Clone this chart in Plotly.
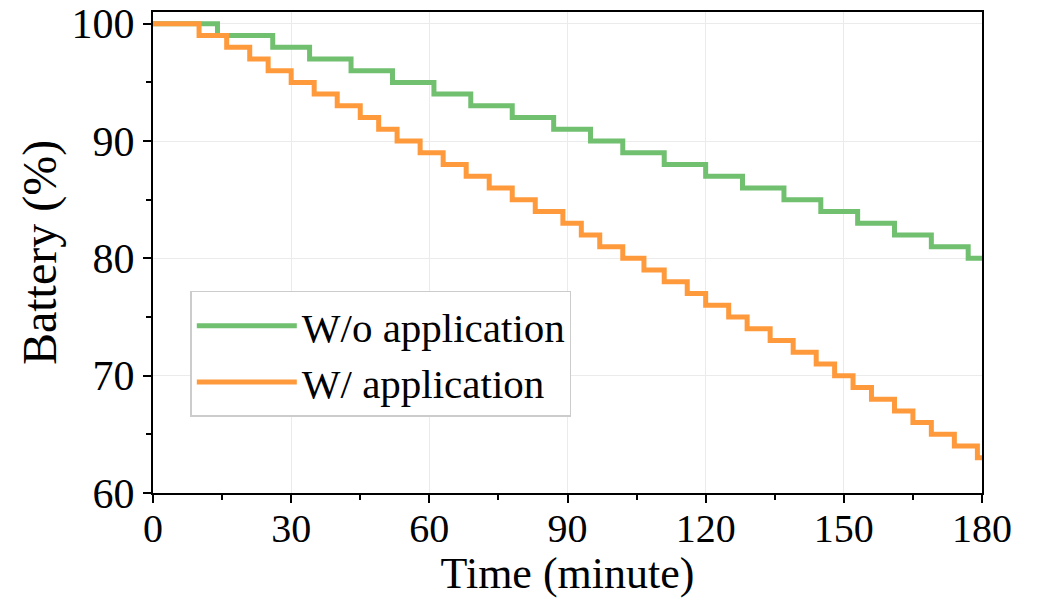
import plotly.graph_objects as go

# Step change times (minutes) and battery levels (%)
wo_time = [0, 14, 26, 34, 43, 52, 61, 69, 78, 87, 95, 102, 111, 120, 128, 137, 145, 153, 161, 169, 177, 180]
wo_batt = [100, 99, 98, 97, 96, 95, 94, 93, 92, 91, 90, 89, 88, 87, 86, 85, 84, 83, 82, 81, 80, 80]

w_time = [0, 10, 16, 21, 25, 30, 35, 40, 45, 49, 53, 58, 63, 68, 73, 78, 83, 89, 93, 97, 102, 106.6,
          111, 116, 120, 125, 129, 134, 139, 144, 148, 152, 156, 161, 165, 169, 174, 179, 180]
w_batt = [100, 99, 98, 97, 96, 95, 94, 93, 92, 91, 90, 89, 88, 87, 86, 85, 84, 83, 82, 81, 80, 79,
          78, 77, 76, 75, 74, 73, 72, 71, 70, 69, 68, 67, 66, 65, 64, 63, 63]

x_ticks = [0, 30, 60, 90, 120, 150, 180]
y_ticks = [60, 70, 80, 90, 100]

FONT = "Liberation Serif, Times New Roman, serif"

fig = go.Figure()
fig.add_trace(go.Scatter(x=wo_time, y=wo_batt, mode="lines", name="W/o application",
                         line=dict(color="#70c070", width=5, shape="hv")))
fig.add_trace(go.Scatter(x=w_time, y=w_batt, mode="lines", name="W/ application",
                         line=dict(color="#ff9a3c", width=5, shape="hv")))

axis_common = dict(showline=True, linecolor="black", linewidth=2, mirror=True,
                   ticks="outside", ticklen=8, tickwidth=2, tickcolor="black",
                   showgrid=True, gridcolor="#ebebeb", gridwidth=1, zeroline=False,
                   automargin=False)

fig.update_xaxes(range=[0, 180], tickvals=x_ticks, ticklabelstandoff=-9,
                 tickfont=dict(family=FONT, size=40, color="black"),
                 minor=dict(dtick=15, ticks="outside", ticklen=5, tickwidth=1.5, tickcolor="black", showgrid=False),
                 title=dict(text="Time (minute)", font=dict(family=FONT, size=44, color="black"), standoff=4),
                 **axis_common)
fig.update_yaxes(range=[60, 101], tickvals=y_ticks,
                 tickfont=dict(family=FONT, size=42, color="black"),
                 minor=dict(dtick=5, ticks="outside", ticklen=5, tickwidth=1.5, tickcolor="black", showgrid=False),
                 title=dict(text="Battery (%)", font=dict(family=FONT, size=48, color="black"), standoff=0),
                 **axis_common)

fig.update_layout(
    width=1043, height=598,
    margin=dict(l=153, r=61, t=12, b=105),
    paper_bgcolor="white", plot_bgcolor="white",
    showlegend=True,
    legend=dict(x=0.045, y=0.42, xanchor="left", yanchor="top",
                bgcolor="white", bordercolor="#cccccc", borderwidth=1.5,
                font=dict(family=FONT, size=41, color="black"),
                itemwidth=100, tracegroupgap=0),
)

fig.write_html("out.html")
